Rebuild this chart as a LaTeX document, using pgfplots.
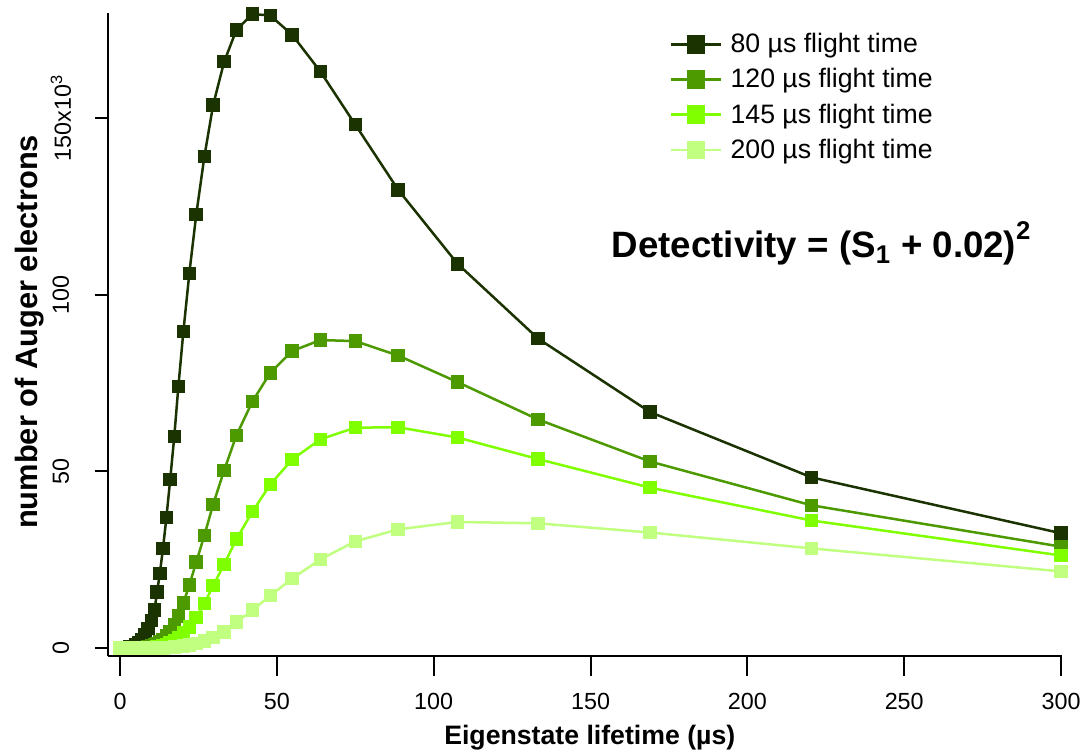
\documentclass[border=0pt]{standalone}
\usepackage{pgfplots}
\pgfplotsset{compat=1.18}
\usepackage{pgfplotstable}
\usepackage{fontspec}
\setmainfont{Liberation Sans}
\definecolor{ft80}{HTML}{1A3300}
\definecolor{ft120}{HTML}{4C9900}
\definecolor{ft145}{HTML}{80FF00}
\definecolor{ft200}{HTML}{C0FF80}

% lifetime (us) vs number of Auger electrons (x10^3) for each flight time
\pgfplotstableread{
x      a      b      c      d
0      0      0      0      0
1      0.03   0      0      0
2      0.1    0      0      0
3      0.25   0      0      0
4      0.5    0      0      0
5      0.9    0.02   0      0
6      1.5    0.05   0      0
7      2.4    0.1    0.02   0
8      3.7    0.2    0.04   0
9      5.5    0.35   0.07   0
10     7.8    0.55   0.12   0
11     10.8   0.85   0.2    0
11.8   15.8   1.2    0.3    0.02
12.7   21.1   1.7    0.45   0.04
13.7   28.2   2.4    0.65   0.06
14.8   37.0   3.4    0.95   0.1
16.0   47.7   4.7    1.4    0.15
17.3   59.9   6.5    2.0    0.25
18.6   74.0   9.1    2.9    0.4
20.2   89.6   12.8   4.2    0.6
22.1   106.1  17.8   6.0    0.9
24.3   122.7  24.3   8.7    1.3
26.9   139.2  31.9   12.6   2.0
29.7   153.8  40.7   17.7   3.0
33.2   166.0  50.3   23.7   4.6
37.1   175.0  60.2   30.8   7.3
42.2   179.5  69.8   38.6   10.7
47.9   179.1  77.9   46.3   14.8
54.9   173.6  84.1   53.4   19.7
63.9   163.2  87.2   59.1   25.1
75.0   148.2  86.9   62.4   30.2
88.7   129.7  82.8   62.5   33.6
107.6  108.8  75.3   59.6   35.7
133.3  87.6   64.7   53.5   35.3
169.0  66.8   52.8   45.4   32.7
220.5  48.3   40.4   36.1   28.2
300.0  32.5   28.7   26.2   21.7
}\auger

\begin{document}
\begin{tikzpicture}
\useasboundingbox (-64.8pt,-57pt) rectangle (586.8pt,393.6pt);
\begin{axis}[
  scale only axis, width=572.4pt, height=385.8pt,
  xmin=-3.83, xmax=300.3, ymin=-2.26, ymax=179.8,
  axis lines*=left, clip=false,
  axis line style={line width=1.2pt},
  tick align=outside,
  major tick style={line width=1.2pt, black},
  x tick style={/pgfplots/major tick length=12pt},
  y tick style={/pgfplots/major tick length=7.8pt},
  xtick={0,50,...,300},
  ytick={0,50,100,150},
  yticklabels={0,50,100,150x10\textsuperscript{3}},
  /pgf/number format/assume math mode=true,
  tick label style={font=\fontsize{14}{16}\selectfont},
  xticklabel style={anchor=center, yshift=-23pt},
  yticklabel style={rotate=90, anchor=center, yshift=24pt},
  xlabel={Eigenstate lifetime (µs)},
  ylabel={number of Auger electrons},
  xlabel style={font=\bfseries\fontsize{16}{19}\selectfont,
    at={(axis description cs:0.505,-0.1275)}, anchor=center},
  ylabel style={font=\bfseries\fontsize{18.5}{22}\selectfont,
    at={(axis description cs:-0.0818,0.504)}, anchor=center},
  every axis plot/.append style={line width=1.5pt, mark=square*, mark size=3.3pt},
  legend style={at={(0.583,0.979)}, anchor=north west, draw=none, fill=none,
    font=\fontsize{16}{19}\selectfont, row sep=4pt,
    /tikz/every odd column/.append style={column sep=3pt}},
  legend cell align=left,
  legend image code/.code={\draw[mark repeat=2, mark phase=2, mark size=4.8pt]
    plot coordinates {(0cm,0cm) (0.53cm,0cm) (1.06cm,0cm)};},
]
\addplot[color=ft80] table[x=x, y=a] {\auger};
\addplot[color=ft120] table[x=x, y=b] {\auger};
\addplot[color=ft145] table[x=x, y=c] {\auger};
\addplot[color=ft200] table[x=x, y=d] {\auger};
\legend{80 µs flight time, 120 µs flight time, 145 µs flight time, 200 µs flight time}
\node[font=\bfseries\fontsize{22}{26}\selectfont] at (rel axis cs:0.748,0.642)
  {Detectivity = (S\textsubscript{1} + 0.02)\raisebox{0.15em}{\textsuperscript{2}}};
\end{axis}
\end{tikzpicture}
\end{document}
